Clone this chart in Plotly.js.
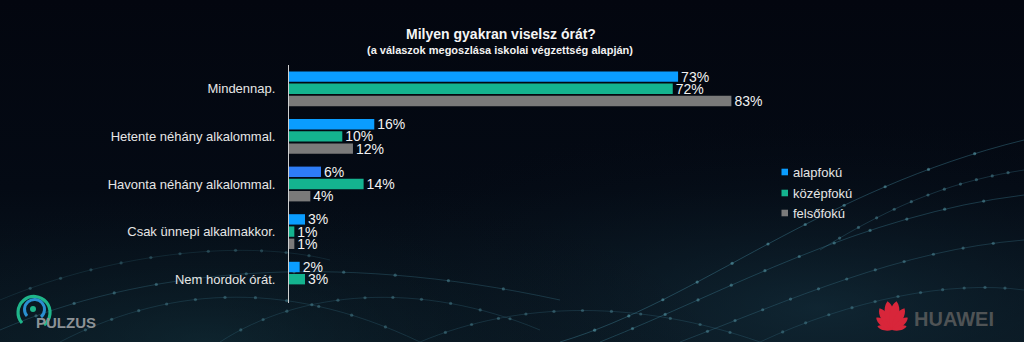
<!DOCTYPE html>
<html>
<head>
<meta charset="utf-8">
<script src="https://cdn.plot.ly/plotly-3.0.1.min.js"></script>
<style>
  html, body { margin:0; padding:0; width:1024px; height:342px; overflow:hidden;
    background: linear-gradient(180deg, #03060f 0%, #040a14 55%, #0a1822 100%); }
  #bg { position:absolute; left:0; top:0; width:1024px; height:342px; }
  #chart { position:absolute; left:0; top:0; width:1024px; height:342px; }
</style>
</head>
<body>
<svg id="bg" width="1024" height="342" xmlns="http://www.w3.org/2000/svg"></svg>
<div id="chart"></div>
<script>
// ---- data ----
const categories = ['Mindennap.', 'Hetente néhány alkalommal.', 'Havonta néhány alkalommal.', 'Csak ünnepi alkalmakkor.', 'Nem hordok órát.'];
const seriesNames = ['alapfokú', 'középfokú', 'felsőfokú'];
const alapfoku = [73, 16, 6, 3, 2];
const kozepfoku = [72, 10, 14, 1, 3];
const felsofoku = [83, 12, 4, 1, null];
const titleText = 'Milyen gyakran viselsz órát?';
const subtitleText = '(a válaszok megoszlása iskolai végzettség alapján)';

// ---- styles ----
const FONT = '"Liberation Sans", Arial, sans-serif';
const colAlap = ['#0a9dff', '#0a9dff', '#2e7cf6', '#0a9dff', '#0a9dff'];
const colors = ['#0a9dff', '#14b38f', '#7a7a7a'];

// ---- decorative background (network lines + logos) ----
(function drawBg(){
  const svg = document.getElementById('bg');
  const NS = 'http://www.w3.org/2000/svg';
  function el(tag, attrs, parent){ const e=document.createElementNS(NS,tag); for(const k in attrs) e.setAttribute(k, attrs[k]); (parent||svg).appendChild(e); return e; }
  const defs = el('defs', {});
  const rg = el('radialGradient', {id:'glow', cx:'0.8', cy:'0.9', r:'0.6'}, defs);
  el('stop', {offset:'0', 'stop-color':'#14303e', 'stop-opacity':'0.6'}, rg);
  el('stop', {offset:'1', 'stop-color':'#03060f', 'stop-opacity':'0'}, rg);
  el('rect', {x:0,y:0,width:1024,height:342,fill:'url(#glow)'});
  const rg2 = el('radialGradient', {id:'glow2', cx:'0.2', cy:'1.0', r:'0.5'}, defs);
  el('stop', {offset:'0', 'stop-color':'#12303a', 'stop-opacity':'0.5'}, rg2);
  el('stop', {offset:'1', 'stop-color':'#03060f', 'stop-opacity':'0'}, rg2);
  el('rect', {x:0,y:0,width:1024,height:342,fill:'url(#glow2)'});

  const curves = [
    [[560,342],[700,300],[820,190],[1024,140], 0.35],
    [[600,342],[730,290],[860,215],[1024,195], 0.3],
    [[680,342],[790,300],[900,250],[1024,240], 0.25],
    [[820,250],[900,200],[960,180],[1024,170], 0.25],
    [[760,342],[850,300],[950,280],[1024,290], 0.2],
    [[0,330],[140,270],[330,250],[560,300], 0.25],
    [[60,342],[160,290],[280,275],[420,342], 0.2],
    [[220,342],[300,290],[420,280],[540,330], 0.2],
    [[420,342],[520,300],[640,300],[760,342], 0.2],
    [[0,300],[120,250],[250,240],[330,260], 0.15]
  ];
  function pt(c,t){ const u=1-t; return [u*u*u*c[0][0]+3*u*u*t*c[1][0]+3*u*t*t*c[2][0]+t*t*t*c[3][0], u*u*u*c[0][1]+3*u*u*t*c[1][1]+3*u*t*t*c[2][1]+t*t*t*c[3][1]]; }
  curves.forEach(c => {
    el('path', {d:`M${c[0]} C${c[1]} ${c[2]} ${c[3]}`, fill:'none', stroke:'#4a98b0', 'stroke-width':1, 'stroke-opacity':c[4]});
    for (let i=1;i<12;i++){ const p=pt(c,i/12); el('circle',{cx:p[0],cy:p[1],r:1.6,fill:'#6fc0d0','fill-opacity':c[4]+0.1}); }
  });

  // Pulzus logo
  el('path', {d:'M 22 323 A 16 16 0 1 1 44 325', fill:'none', stroke:'#1fb58a', 'stroke-width':3.2});
  el('path', {d:'M 27 316 A 10 10 0 1 1 41 317', fill:'none', stroke:'#2a8fd0', 'stroke-width':3});
  el('circle', {cx:33, cy:309, r:3, fill:'#1fb58a'});
  const t1 = el('text', {x:36, y:328, fill:'#8c9296', 'font-family':FONT, 'font-size':15, 'font-weight':'bold'});
  t1.textContent = 'PULZUS';

  // Huawei logo: petals
  const cx = 892, cy = 330;
  [[-76,15],[-52,20],[-30,25],[-9,29],[9,29],[30,25],[52,20],[76,15]].forEach(([a,len]) => {
    const g = el('g', {transform:`translate(${cx},${cy}) rotate(${a}) scale(${len/28})`});
    el('path', {d:'M 0 0 C -6 -9, -6 -23, 0 -28 C 6 -23, 6 -9, 0 0 Z', fill:'#d8263a'}, g);
  });
  const t2 = el('text', {x:914, y:326, fill:'#4f5355', 'font-family':FONT, 'font-size':20, 'font-weight':'bold'});
  t2.textContent = 'HUAWEI';
})();

// ---- chart ----
const L = 289, R = 822, T = 65, B = 303;
const W = 1024, H = 342;
const px2x = p => (p - L) / (R - L);
const px2y = p => (B - p) / (B - T);

const series = [alapfoku, kozepfoku, felsofoku];
const traces = series.map((vals, i) => ({
  type: 'bar',
  orientation: 'h',
  name: seriesNames[i],
  y: categories,
  x: vals,
  marker: { color: i === 0 ? colAlap : colors[i] },
  text: vals.map(v => v == null ? '' : v + '%'),
  textposition: 'outside',
  constraintext: 'none',
  textfont: { family: FONT, size: 14, color: '#f2f2f2' },
  cliponaxis: false,
  hoverinfo: 'skip',
  showlegend: false
}));

const legendY = [172, 193, 213];
const shapes = [], annotations = [];
seriesNames.forEach((n, i) => {
  shapes.push({ type: 'rect', xref: 'paper', yref: 'paper',
    x0: px2x(781.5), x1: px2x(788), y0: px2y(legendY[i] + 3.3), y1: px2y(legendY[i] - 3.3),
    fillcolor: colors[i], line: { width: 0 } });
  annotations.push({ xref: 'paper', yref: 'paper', x: px2x(791), y: px2y(legendY[i]),
    xanchor: 'left', yanchor: 'middle', showarrow: false, text: n,
    font: { family: FONT, size: 13, color: '#e6e6e6' } });
});
annotations.push({ xref: 'paper', yref: 'paper', x: px2x(500), y: px2y(50),
  xanchor: 'center', yanchor: 'middle', showarrow: false, text: '<b>' + subtitleText + '</b>',
  font: { family: FONT, size: 11, color: '#f2f2f2' } });

const layout = {
  width: W, height: H,
  margin: { l: L, r: W - R, t: T, b: H - B, pad: 0 },
  paper_bgcolor: 'rgba(0,0,0,0)',
  plot_bgcolor: 'rgba(0,0,0,0)',
  barmode: 'group',
  bargap: 0.23,
  bargroupgap: 0.15,
  showlegend: false,
  title: { text: '<b>' + titleText + '</b>', xref: 'container', yref: 'container',
    x: 501 / W, y: 1 - 34 / H, xanchor: 'center', yanchor: 'middle',
    font: { family: FONT, size: 14, color: '#f5f5f5' } },
  xaxis: { range: [0, 100], visible: false, fixedrange: true },
  yaxis: { autorange: 'reversed', showline: true, linecolor: '#d0d0d0', linewidth: 1,
    showgrid: false, zeroline: false, ticks: '', ticklabelstandoff: 10,
    tickfont: { family: FONT, size: 13, color: '#e6e6e6' }, fixedrange: true },
  shapes: shapes,
  annotations: annotations,
  font: { family: FONT }
};

Plotly.newPlot('chart', traces, layout, { displayModeBar: false, staticPlot: true });
</script>
</body>
</html>
